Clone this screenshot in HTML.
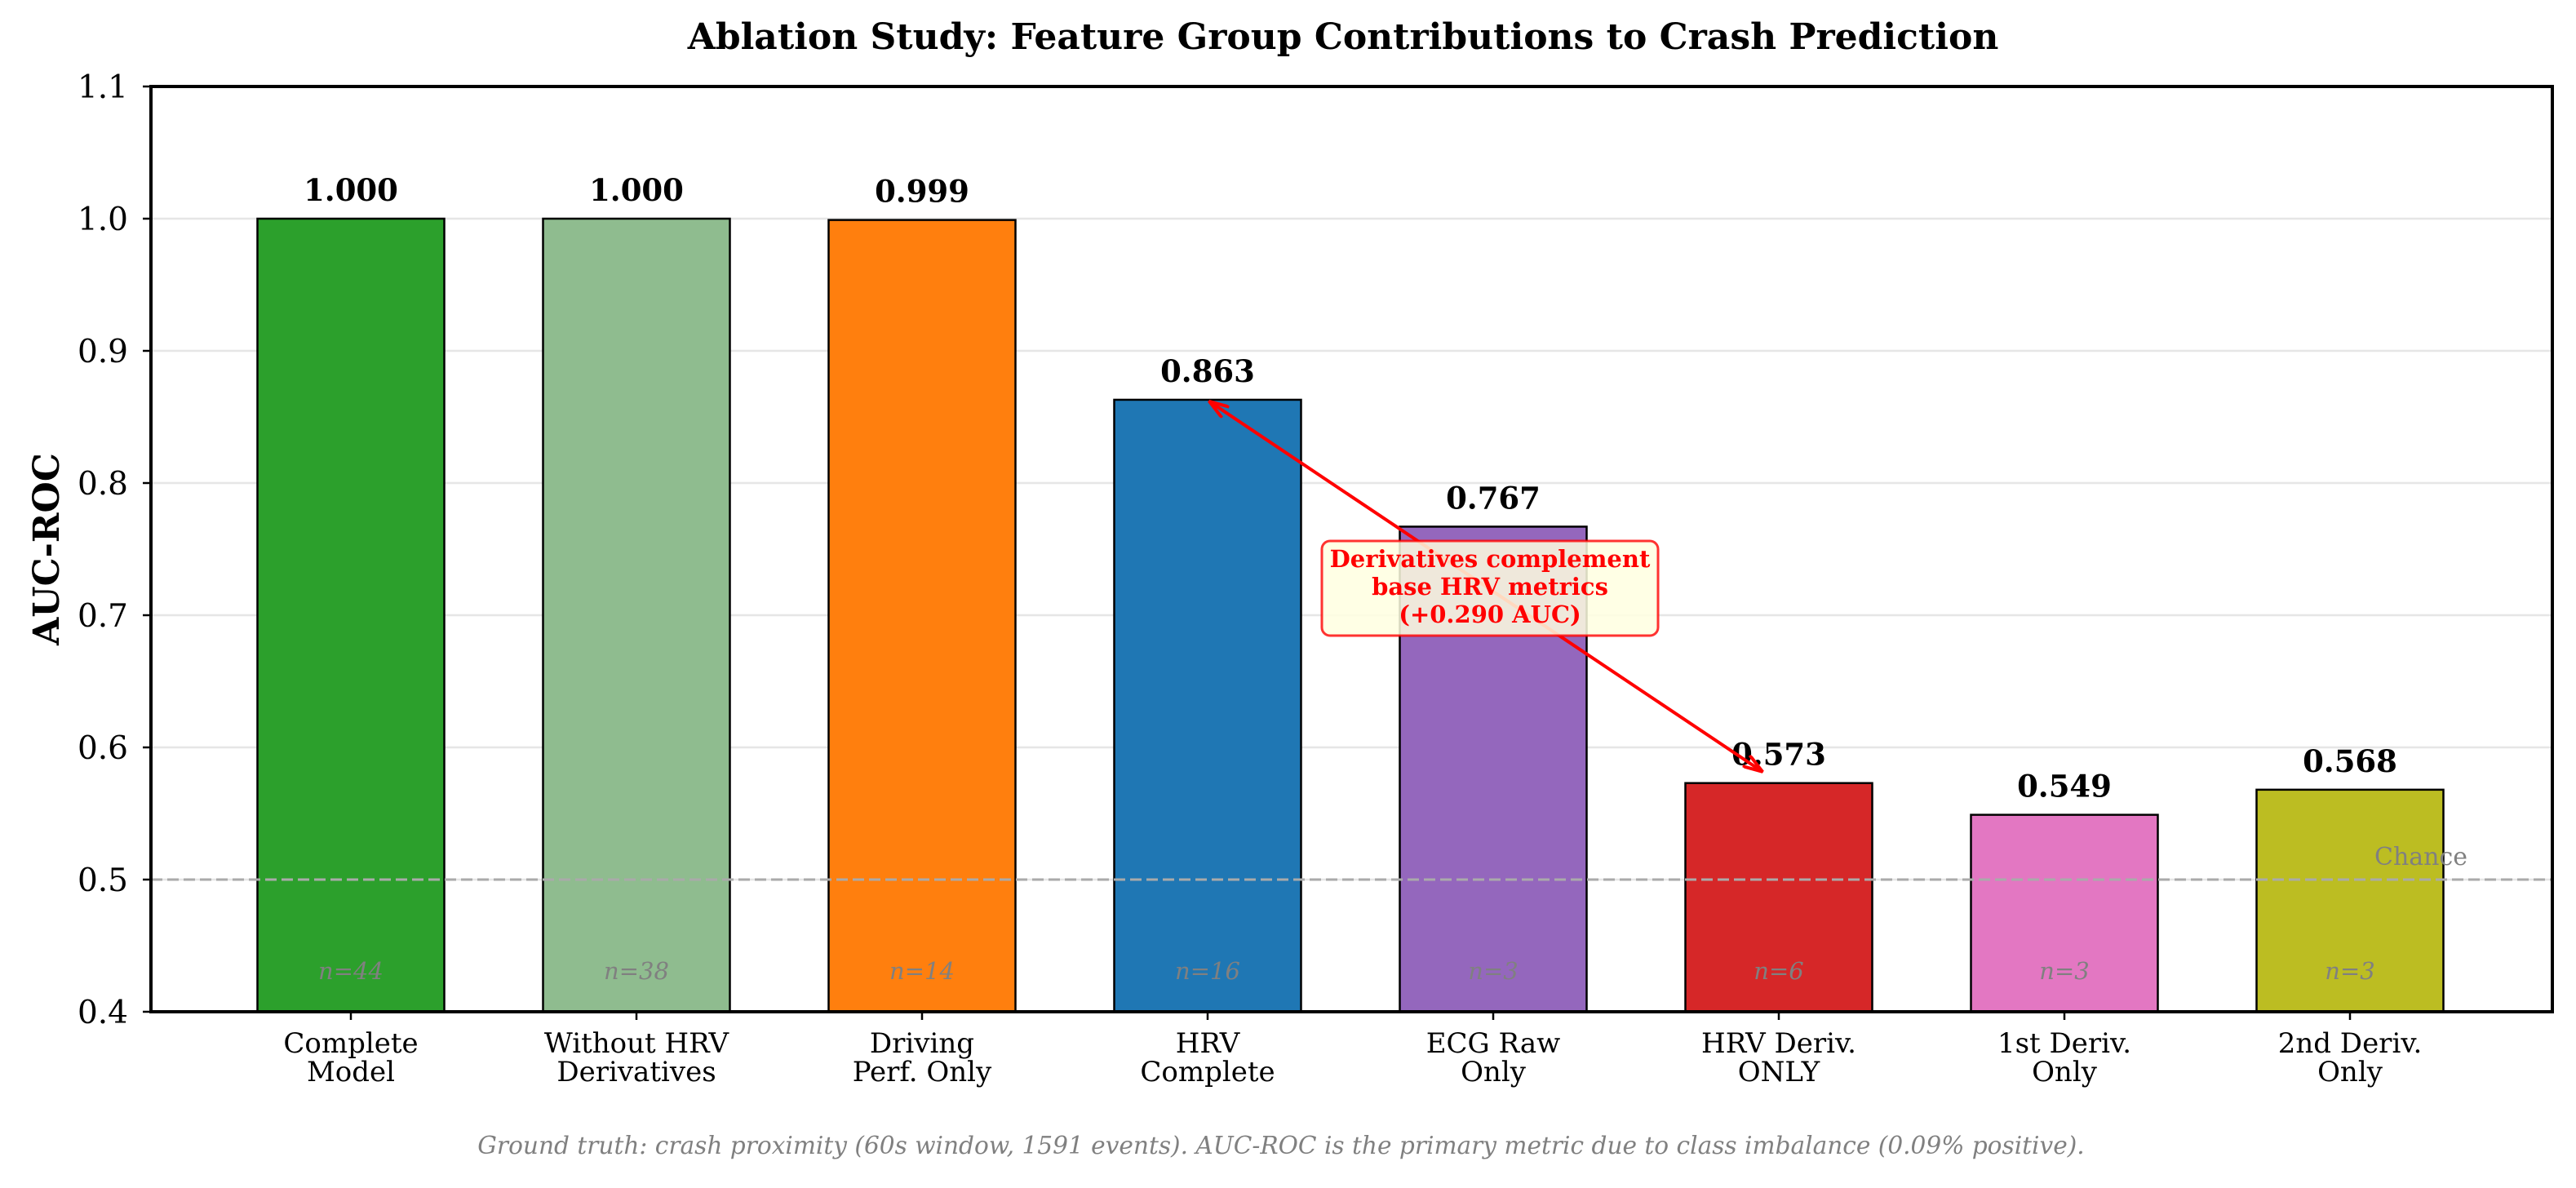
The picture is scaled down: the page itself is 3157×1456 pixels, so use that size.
<!DOCTYPE html>
<html><head><meta charset="utf-8"><style>
html,body{margin:0;padding:0;background:#fff;}
svg{display:block;font-family:"DejaVu Serif","Liberation Serif",serif;}
</style></head><body>
<svg id="chart" width="3157" height="1456" viewBox="0 0 3157 1456" xmlns="http://www.w3.org/2000/svg">
<defs>
<marker id="ah" viewBox="0 0 26 18" refX="25" refY="9" markerWidth="26" markerHeight="18" orient="auto-start-reverse" markerUnits="userSpaceOnUse"><path d="M1,1 L25,9 L1,17" fill="none" stroke="#ff0000" stroke-width="4"/></marker>
</defs>
<rect width="3157" height="1456" fill="#fff"/>
<text x="1646" y="60" text-anchor="middle" font-size="44" font-weight="bold">Ablation Study: Feature Group Contributions to Crash Prediction</text>
<g id="grid"></g>
<g id="bars"></g>
<g id="labels"></g>
<g id="axes"></g>
<g id="annot"></g>
<text transform="translate(72,673) rotate(-90)" text-anchor="middle" font-size="44" font-weight="bold">AUC-ROC</text>
<text x="1570" y="1414" text-anchor="middle" font-size="29.6" font-style="italic" fill="#808080">Ground truth: crash proximity (60s window, 1591 events). AUC-ROC is the primary metric due to class imbalance (0.09% positive).</text>
</svg>
<script>
const categories = [["Complete","Model"],["Without HRV","Derivatives"],["Driving","Perf. Only"],["HRV","Complete"],["ECG Raw","Only"],["HRV Deriv.","ONLY"],["1st Deriv.","Only"],["2nd Deriv.","Only"]];
const aucValues = [1.000, 1.000, 0.999, 0.863, 0.767, 0.573, 0.549, 0.568];
const sampleCounts = [44, 38, 14, 16, 3, 6, 3, 3];
const barColors = ["#2ca02c","#8fbc8f","#ff7f0e","#1f77b4","#9467bd","#d62728","#e377c2","#bcbd22"];
const yTicks = [0.4,0.5,0.6,0.7,0.8,0.9,1.0,1.1];
const chanceLevel = 0.5;
const annotFrom = 3, annotTo = 5;

const NS="http://www.w3.org/2000/svg";
const L=185, R=3128, T=106, B=1240, yMin=0.4, yMax=1.1;
const x0=430, step=350, bw=229;
function xs(i){return x0+i*step;}
function ys(v){return B-(v-yMin)/(yMax-yMin)*(B-T);}
function mk(tag,attrs,parent,txt){const e=document.createElementNS(NS,tag);for(const k in attrs)e.setAttribute(k,attrs[k]);if(txt!==undefined)e.textContent=txt;document.getElementById(parent).appendChild(e);return e;}

yTicks.forEach(t=>{
  if(t>yMin && t<yMax){
    const g=mk('line',{x1:L,x2:R,y1:ys(t),y2:ys(t),stroke:'#e6e6e6','stroke-width':2.5},'grid');
    
    
  }
  const tk=mk('line',{x1:L-10,x2:L,y1:ys(t),y2:ys(t),stroke:'#000','stroke-width':2.5},'axes');
  
  
  const tl=mk('text',{x:L-28,y:ys(t)+14,'text-anchor':'end','font-size':39},'axes',t.toFixed(1));
  
  
});

aucValues.forEach((v,i)=>{
  const b=mk('rect',{x:xs(i)-bw/2,y:ys(v),width:bw,height:B-ys(v),fill:barColors[i],stroke:'#000','stroke-width':2.5},'bars');
  
  
  const vl=mk('text',{x:xs(i),y:ys(v)-22,'text-anchor':'middle','font-size':37,'font-weight':'bold'},'labels',v.toFixed(3));
  
  
  const nl=mk('text',{x:xs(i),y:1200,'text-anchor':'middle','font-size':29,'font-style':'italic',fill:'#808080'},'labels','n='+sampleCounts[i]);
  
  
  const tk=mk('line',{x1:xs(i),x2:xs(i),y1:B,y2:B+10,stroke:'#000','stroke-width':2.5},'axes');
  
  
  categories[i].forEach((s,j)=>{
    const xl=mk('text',{x:xs(i),y:1290+j*35,'text-anchor':'middle','font-size':34},'axes',s);
    
    
  });
});

const ch=mk('line',{x1:L,x2:R,y1:ys(chanceLevel),y2:ys(chanceLevel),stroke:'#aaaaaa','stroke-width':3,'stroke-dasharray':'14,6'},'labels');


const cl=mk('text',{x:2910,y:ys(chanceLevel)-18,'font-size':30,fill:'#808080'},'labels','Chance');



const fr=mk('rect',{x:L,y:T,width:R-L,height:B-T,fill:'none',stroke:'#000','stroke-width':4},'axes');



const ax1=xs(annotFrom)+2, ay1=ys(aucValues[annotFrom])+2, ax2=xs(annotTo)-20, ay2=ys(aucValues[annotTo])-14;
const ar=mk('line',{x1:ax1,y1:ay1,x2:ax2,y2:ay2,stroke:'#ff0000','stroke-width':4,'marker-start':'url(#ah)','marker-end':'url(#ah)'},'annot');


const bx=mk('rect',{x:1620,y:663,width:412,height:116,rx:10,fill:'#ffffe0','fill-opacity':0.85,stroke:'#ff0000','stroke-opacity':0.8,'stroke-width':3},'annot');


["Derivatives complement","base HRV metrics","(+0.290 AUC)"].forEach((s,j)=>{
  const t=mk('text',{x:1826,y:695+j*34,'text-anchor':'middle','font-size':29,'font-weight':'bold',fill:'#ff0000'},'annot',s);
  
  
});
</script>
</body></html>
